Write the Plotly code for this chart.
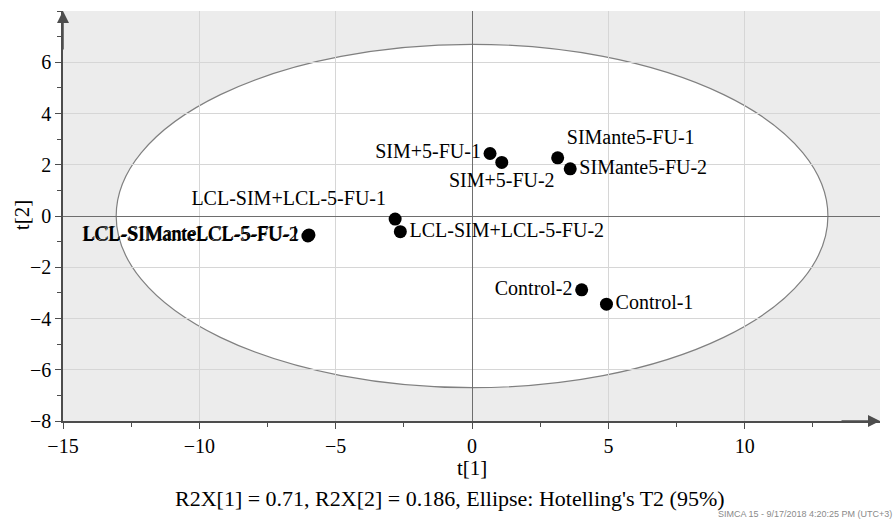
import plotly.graph_objects as go

# Score values
names = ["SIM+5-FU-1", "SIM+5-FU-2", "SIMante5-FU-1", "SIMante5-FU-2",
         "LCL-SIM+LCL-5-FU-1", "LCL-SIM+LCL-5-FU-2",
         "LCL-SIManteLCL-5-FU-1", "LCL-SIManteLCL-5-FU-2",
         "Control-1", "Control-2"]
t1 = [0.66, 1.09, 3.14, 3.60, -2.82, -2.63, -5.98, -6.02, 4.93, 4.02]
t2 = [2.44, 2.09, 2.27, 1.84, -0.12, -0.61, -0.74, -0.78, -3.44, -2.88]
label_pos = ["middle left", "bottom center", "top right", "middle right",
             "top left", "middle right", "middle left", "middle left",
             "middle right", "middle left"]

# Hotelling's T2 (95%) ellipse semi-axes
ell_a = 13.05
ell_b = 6.70

x_ticks = [-15, -10, -5, 0, 5, 10]
y_ticks = [-8, -6, -4, -2, 0, 2, 4, 6]

serif = "Liberation Serif, Times New Roman, serif"
axis_col = "#4d4d4d"

fig = go.Figure()
fig.add_trace(go.Scatter(
    x=t1, y=t2, mode="markers+text", text=names, textposition=label_pos,
    marker=dict(color="black", size=13),
    textfont=dict(family=serif, size=20, color="black"),
    cliponaxis=False, showlegend=False, hoverinfo="skip",
))

fig.add_shape(type="circle", xref="x", yref="y",
              x0=-ell_a, x1=ell_a, y0=-ell_b, y1=ell_b,
              fillcolor="white", line=dict(color="#808080", width=1.2),
              layer="below")

fig.update_layout(
    width=895, height=523,
    margin=dict(l=63, r=15, t=11, b=102, autoexpand=False),
    paper_bgcolor="white", plot_bgcolor="#ececec",
    font=dict(family=serif, size=20, color="black"),
    xaxis=dict(range=[-15, 14.96], tickvals=x_ticks, showgrid=True,
               gridcolor="#d6d6d6", gridwidth=1, automargin=False,
               zeroline=True, zerolinecolor="#6e6e6e", zerolinewidth=1.3,
               showline=True, linecolor=axis_col, linewidth=1.5,
               ticks="outside", ticklen=6, tickcolor=axis_col,
               minor=dict(ticks="outside", dtick=2.5, tick0=-15, ticklen=4,
                          tickcolor=axis_col, showgrid=False),
               tickfont=dict(size=20)),
    yaxis=dict(range=[-8, 8], tickvals=y_ticks, showgrid=True,
               gridcolor="#d6d6d6", gridwidth=1, automargin=False,
               zeroline=True, zerolinecolor="#6e6e6e", zerolinewidth=1.3,
               showline=True, linecolor=axis_col, linewidth=1.5,
               ticks="outside", ticklen=6, tickcolor=axis_col,
               minor=dict(ticks="outside", dtick=1, tick0=-8, ticklen=4,
                          tickcolor=axis_col, showgrid=False),
               tickfont=dict(size=20)),
)

# axis titles
fig.add_annotation(xref="paper", yref="paper", x=0.5006, y=-0.114,
                   xanchor="center", yanchor="middle", showarrow=False,
                   text="t[1]", font=dict(family=serif, size=21, color="black"))
fig.add_annotation(xref="paper", yref="paper", x=-0.0502, y=0.502,
                   xanchor="center", yanchor="middle", showarrow=False,
                   textangle=-90,
                   text="t[2]", font=dict(family=serif, size=21, color="black"))

# axis arrows
fig.add_annotation(xref="paper", yref="paper", x=0, y=1.0, ax=0, ay=40,
                   text="", showarrow=True, arrowhead=2, arrowsize=1.6,
                   arrowwidth=1.5, arrowcolor=axis_col)
fig.add_annotation(xref="paper", yref="paper", x=1.0, y=0, ax=-40, ay=0,
                   text="", showarrow=True, arrowhead=2, arrowsize=1.6,
                   arrowwidth=1.5, arrowcolor=axis_col)

fig.add_annotation(xref="paper", yref="paper", x=0.474, y=-0.19,
                   xanchor="center", yanchor="middle", showarrow=False,
                   text="R2X[1] = 0.71, R2X[2] = 0.186, Ellipse: Hotelling's T2 (95%)",
                   font=dict(family=serif, size=22, color="black"))
fig.add_annotation(xref="paper", yref="paper", x=(894 - 63) / 817, y=-0.228,
                   xanchor="right", yanchor="middle", showarrow=False,
                   text="SIMCA 15 - 9/17/2018 4:20:25 PM (UTC+3)",
                   font=dict(family="Liberation Sans, DejaVu Sans, sans-serif", size=9, color="#8a8a8a"))

fig.write_html("out.html", config={"displayModeBar": False},
               post_script="document.body.style.margin='0';document.body.style.overflow='hidden';")
